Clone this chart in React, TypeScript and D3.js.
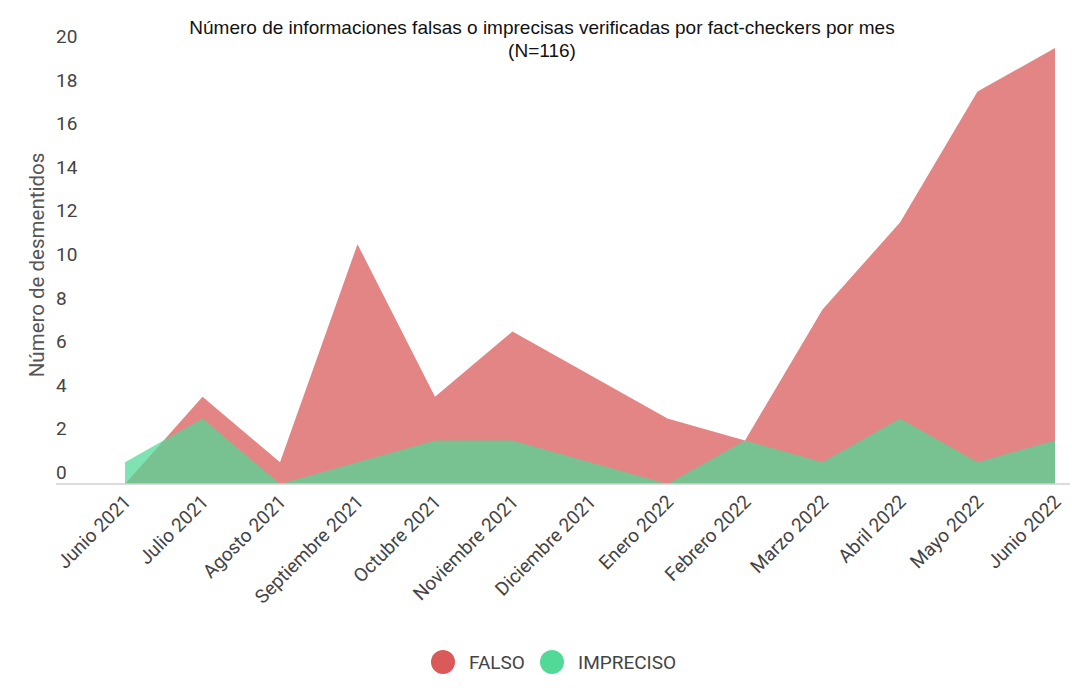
import React, { useEffect, useRef } from 'react';
import * as d3 from 'd3';

const months = [
  'Junio 2021', 'Julio 2021', 'Agosto 2021', 'Septiembre 2021', 'Octubre 2021',
  'Noviembre 2021', 'Diciembre 2021', 'Enero 2022', 'Febrero 2022', 'Marzo 2022',
  'Abril 2022', 'Mayo 2022', 'Junio 2022',
];
const falso = [0, 4, 1, 11, 4, 7, 5, 3, 2, 8, 12, 18, 20];
const impreciso = [1, 3, 0, 1, 2, 2, 1, 0, 2, 1, 3, 1, 2];
const yTicks = [0, 2, 4, 6, 8, 10, 12, 14, 16, 18, 20];

const seriesNames = ['FALSO', 'IMPRECISO'];
const seriesColors = ['#da5a5a', '#52d897'];

const W = 1072;
const H = 692;

export default function App() {
  const ref = useRef<SVGSVGElement>(null);

  useEffect(() => {
    if (!ref.current) return;
    const svg = d3.select(ref.current);
    svg.selectAll('*').remove();

    const x = d3.scalePoint<string>().domain(months).range([125, 1055]);
    const y = d3.scaleLinear().domain([0, 20]).range([484, 48]);

    // title
    const title = svg.append('text')
      .attr('text-anchor', 'middle')
      .attr('font-family', 'Liberation Sans, Arial, sans-serif')
      .attr('font-size', 19)
      .attr('fill', '#111');
    title.append('tspan').attr('x', 542).attr('y', 34)
      .text('Número de informaciones falsas o imprecisas verificadas por fact-checkers por mes');
    title.append('tspan').attr('x', 542).attr('y', 57).text('(N=116)');

    // areas (overlapping, not stacked)
    [falso, impreciso].forEach((vals, i) => {
      const area = d3.area<number>()
        .x((_, j) => x(months[j]) ?? 0)
        .y0(y(0))
        .y1(d => y(d));
      svg.append('path')
        .attr('d', area(vals) ?? '')
        .attr('fill', seriesColors[i])
        .attr('fill-opacity', 0.74);
    });

    // baseline
    svg.append('line')
      .attr('x1', 56).attr('x2', 1070)
      .attr('y1', y(0)).attr('y2', y(0))
      .attr('stroke', '#d0d0d0')
      .attr('stroke-width', 1.5);

    // y tick labels sit above the value line
    svg.append('g')
      .selectAll('text')
      .data(yTicks)
      .enter()
      .append('text')
      .attr('x', 56)
      .attr('y', d => y(d) - 5)
      .attr('font-family', 'Roboto, sans-serif')
      .attr('font-size', 19)
      .attr('fill', '#444')
      .text(d => d);

    // y axis title
    svg.append('text')
      .attr('transform', 'translate(44,265) rotate(-90)')
      .attr('text-anchor', 'middle')
      .attr('font-family', 'Roboto, sans-serif')
      .attr('font-size', 20.5)
      .attr('fill', '#555')
      .text('Número de desmentidos');

    // x tick labels
    svg.append('g')
      .selectAll('text')
      .data(months)
      .enter()
      .append('text')
      .attr('transform', d => `translate(${(x(d) ?? 0) + 7},${503}) rotate(-45)`)
      .attr('text-anchor', 'end')
      .attr('font-family', 'Roboto, sans-serif')
      .attr('font-size', 19)
      .attr('fill', '#444')
      .text(d => d);

    // legend
    const legendX = [443, 552];
    const legend = svg.append('g')
      .selectAll('g')
      .data(seriesNames)
      .enter()
      .append('g')
      .attr('transform', (_, i) => `translate(${legendX[i]},662)`);
    legend.append('circle')
      .attr('r', 12)
      .attr('fill', (_, i) => seriesColors[i]);
    legend.append('text')
      .attr('x', 26)
      .attr('y', 7)
      .attr('font-family', 'Roboto, sans-serif')
      .attr('font-size', 19)
      .attr('fill', '#444')
      .text(d => d);
  }, []);

  return (
    <svg
      ref={ref}
      width={W}
      height={H}
      style={{ position: 'absolute', left: 0, top: 0, background: '#fff' }}
    />
  );
}
